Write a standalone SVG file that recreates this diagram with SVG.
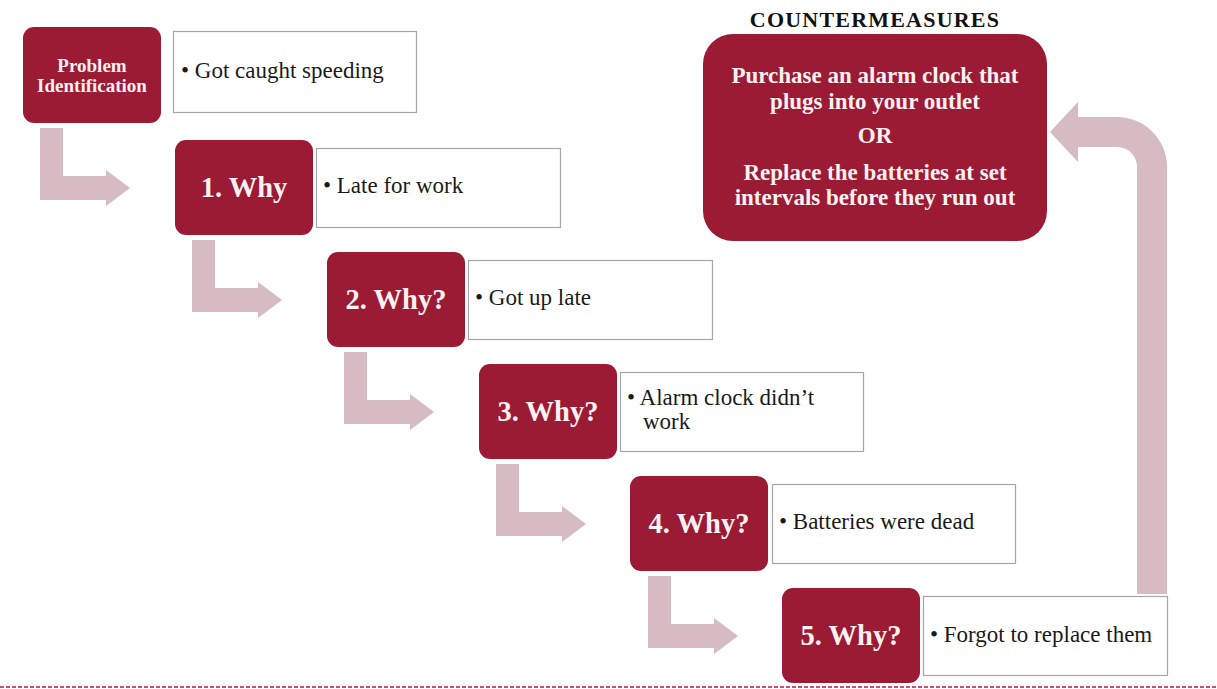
<svg xmlns="http://www.w3.org/2000/svg" width="1217" height="689" viewBox="0 0 1217 689">
<defs>
<style>
.node{fill:#9c1b34;}
.box{fill:#ffffff;stroke:#a6a6a6;stroke-width:1.2;}
.arr{fill:#d6bcc2;}
.nt{font-family:"Liberation Serif",serif;font-weight:bold;fill:#fbf0f2;text-anchor:middle;}
.bt{font-family:"Liberation Serif",serif;font-size:23px;fill:#1a1a1a;}
.title{font-family:"Liberation Serif",serif;font-weight:bold;font-size:22px;letter-spacing:1.2px;fill:#111;text-anchor:middle;}
</style>
<path id="elbow" d="M40,128 L63,128 L63,176 L106,176 L106,170 L130,188 L106,206 L106,200 L40,200 Z"/>
</defs>
<rect width="1217" height="689" fill="#ffffff"/>
<g id="connectors" class="arr">
<use href="#elbow"/>
<use href="#elbow" transform="translate(152,112)"/>
<use href="#elbow" transform="translate(304,224)"/>
<use href="#elbow" transform="translate(456,336)"/>
<use href="#elbow" transform="translate(608,448)"/>
<path d="M1137,594 L1137,167 A20,20 0 0 0 1117,147 L1078,147 L1078,162 L1050,132 L1078,102 L1078,117 L1117,117 A50,50 0 0 1 1167,167 L1167,594 Z"/>
</g>
<g id="node-problem">
<rect class="node" x="23" y="27" width="138" height="96" rx="11"/>
<text class="nt" x="92" y="72" font-size="19">Problem</text>
<text class="nt" x="92" y="92" font-size="19">Identification</text>
<rect class="box" x="173.5" y="31.5" width="243" height="81"/>
<text class="bt" x="181" y="78">• Got caught speeding</text>
</g>
<g id="node-why1">
<rect class="node" x="175" y="140" width="138" height="95" rx="11"/>
<text class="nt" x="244" y="197" font-size="28.5">1. Why</text>
<rect class="box" x="316.5" y="148.5" width="244" height="79"/>
<text class="bt" x="323" y="193">• Late for work</text>
</g>
<g id="node-why2">
<rect class="node" x="327" y="252" width="138" height="95" rx="11"/>
<text class="nt" x="396" y="309" font-size="28.5">2. Why?</text>
<rect class="box" x="468.5" y="260.5" width="244" height="79"/>
<text class="bt" x="475" y="305">• Got up late</text>
</g>
<g id="node-why3">
<rect class="node" x="479" y="364" width="138" height="95" rx="11"/>
<text class="nt" x="548" y="421" font-size="28.5">3. Why?</text>
<rect class="box" x="620.5" y="372.5" width="243" height="79"/>
<text class="bt" x="627" y="405">• Alarm clock didn’t</text>
<text class="bt" x="643" y="429">work</text>
</g>
<g id="node-why4">
<rect class="node" x="630" y="476" width="138" height="95" rx="11"/>
<text class="nt" x="699" y="533" font-size="28.5">4. Why?</text>
<rect class="box" x="772.5" y="484.5" width="243" height="79"/>
<text class="bt" x="779" y="529">• Batteries were dead</text>
</g>
<g id="node-why5">
<rect class="node" x="782" y="588" width="138" height="95" rx="11"/>
<text class="nt" x="851" y="645" font-size="28.5">5. Why?</text>
<rect class="box" x="923.5" y="596.5" width="244" height="79"/>
<text class="bt" x="930" y="642">• Forgot to replace them</text>
</g>
<g id="node-countermeasures">
<text class="title" x="875" y="27">COUNTERMEASURES</text>
<rect class="node" x="703" y="34" width="344" height="207" rx="30"/>
<text class="nt" x="875" y="83" font-size="23">Purchase an alarm clock that</text>
<text class="nt" x="875" y="109" font-size="23">plugs into your outlet</text>
<text class="nt" x="875" y="143" font-size="23">OR</text>
<text class="nt" x="875" y="180" font-size="23">Replace the batteries at set</text>
<text class="nt" x="875" y="205" font-size="23">intervals before they run out</text>
</g>
<line x1="0" y1="687" x2="1217" y2="687" stroke="#c4536c" stroke-width="2" stroke-dasharray="4 2"/>
</svg>
